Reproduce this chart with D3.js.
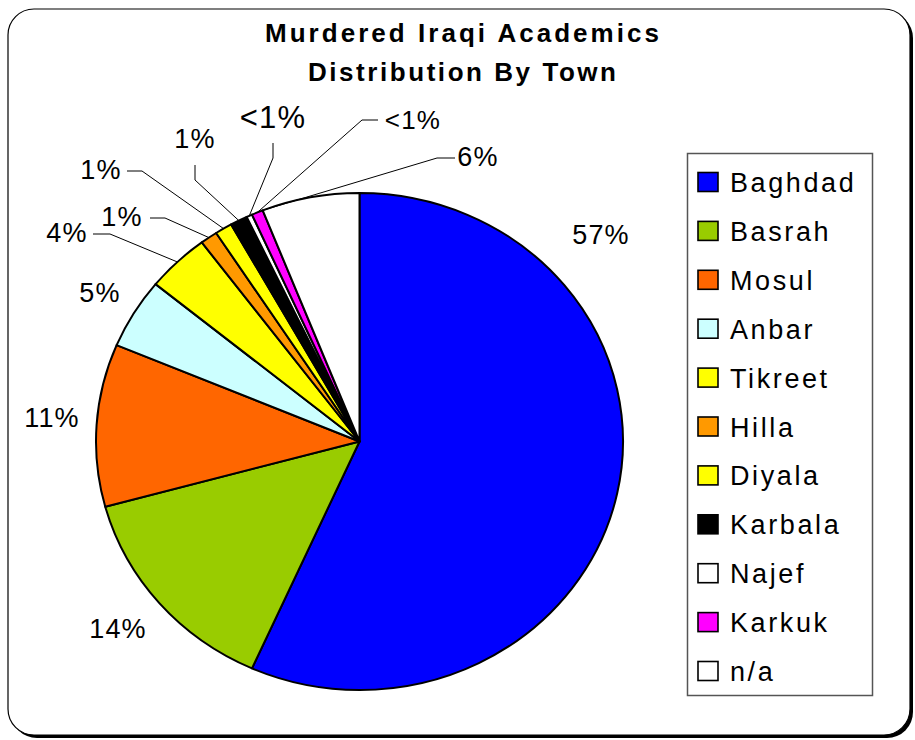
<!DOCTYPE html>
<html>
<head>
<meta charset="utf-8">
<script src="https://cdn.jsdelivr.net/npm/d3@7"></script>
<style>
  body { margin: 0; background: #fff; }
  svg { display: block; font-family: "Liberation Sans", Arial, sans-serif; }
</style>
</head>
<body>
<div id="chart"></div>
<script>
// data (counts, labels computed as share of total)
const towns = ["Baghdad", "Basrah", "Mosul", "Anbar", "Tikreet", "Hilla", "Diyala", "Karbala", "Najef", "Karkuk", "n/a"];
const counts = [161, 40, 30, 13, 11, 3, 3, 3, 1, 2, 17];
const colors = ["#0000ff", "#99cc00", "#ff6600", "#ccffff", "#ffff00", "#ff9900", "#ffff00", "#000000", "#ffffff", "#ff00ff", "#ffffff"];
const titleLines = ["Murdered Iraqi Academics", "Distribution By Town"];

// label placement (layout only): text centre, leader polyline start/bend, font size
const labelLayout = [
  { x: 601, y: 235, size: 27 },
  { x: 118, y: 629, size: 27 },
  { x: 52, y: 418, size: 27 },
  { x: 100, y: 293, size: 27 },
  { x: 67, y: 233, size: 27, lead: [[93, 234], [110, 234]] },
  { x: 122, y: 217, size: 27, lead: [[150, 218], [165, 218]] },
  { x: 101, y: 170, size: 27, lead: [[127, 171], [142, 171]] },
  { x: 195, y: 139, size: 27, lead: [[195, 165], [195, 180]] },
  { x: 273, y: 117, size: 31, lead: [[273, 143], [273, 158]] },
  { x: 413, y: 120, size: 26, lead: [[378, 120], [362, 120]] },
  { x: 478, y: 157, size: 27, lead: [[455, 158], [437, 158]], anchor: "start" }
];

const W = 915, H = 740;
const cx = 359.5, cy = 441.5, r = 248.5, sx = 263.5 / 248.5;

const svg = d3.select("#chart").append("svg")
  .attr("width", W)
  .attr("height", H);

// frame with shadow
svg.append("rect")
  .attr("x", 11).attr("y", 12).attr("width", 902).attr("height", 726)
  .attr("rx", 26).attr("fill", "#000");
svg.append("rect")
  .attr("x", 8).attr("y", 9).attr("width", 902).attr("height", 726)
  .attr("rx", 26).attr("fill", "#fff").attr("stroke", "#000").attr("stroke-width", 1.2);

// title
svg.selectAll(".title")
  .data(titleLines)
  .enter()
  .append("text")
  .attr("class", "title")
  .attr("x", 462)
  .attr("y", (d, i) => 42 + i * 39)
  .attr("text-anchor", "middle")
  .attr("font-size", 26)
  .attr("font-weight", "bold")
  .attr("textLength", (d, i) => i === 0 ? 394 : 308)
  .attr("lengthAdjust", "spacing")
  .text(d => d);

const total = d3.sum(counts);
const data = towns.map((t, i) => ({ town: t, value: counts[i], color: colors[i] }));

const pie = d3.pie().sort(null).value(d => d.value);
const arcs = pie(data);

const arc = d3.arc().innerRadius(0).outerRadius(r);

const g = svg.append("g")
  .attr("transform", `translate(${cx},${cy}) scale(${sx},1)`);

g.selectAll("path")
  .data(arcs)
  .enter()
  .append("path")
  .attr("d", arc)
  .attr("fill", d => d.data.color)
  .attr("stroke", "#000")
  .attr("stroke-width", 2)
  .attr("stroke-linejoin", "round")
  .attr("vector-effect", "non-scaling-stroke");

function edgePoint(a) {
  return [cx + Math.sin(a) * r * sx, cy - Math.cos(a) * r];
}

function pctLabel(v) {
  const p = v / total * 100;
  return p < 1 ? "<1%" : Math.round(p) + "%";
}

// leader lines
arcs.forEach((d, i) => {
  const lay = labelLayout[i];
  if (!lay.lead) return;
  const a = lay.anchor === "start" ? d.startAngle + 0.004 : (d.startAngle + d.endAngle) / 2;
  const pts = lay.lead.concat([edgePoint(a)]);
  svg.append("path")
    .attr("d", d3.line()(pts))
    .attr("fill", "none")
    .attr("stroke", "#000")
    .attr("stroke-width", 1);
});

// percent labels
svg.selectAll(".pct")
  .data(arcs)
  .enter()
  .append("text")
  .attr("class", "pct")
  .attr("x", (d, i) => labelLayout[i].x)
  .attr("y", (d, i) => labelLayout[i].y)
  .attr("text-anchor", "middle")
  .attr("dominant-baseline", "central")
  .attr("font-size", (d, i) => labelLayout[i].size)
  .attr("letter-spacing", 1.2)
  .text(d => pctLabel(d.value));

// legend
const legend = svg.append("g");
legend.append("rect")
  .attr("x", 687.5).attr("y", 153.5).attr("width", 185).attr("height", 542)
  .attr("fill", "#fff").attr("stroke", "#555").attr("stroke-width", 1.5);

const item = legend.selectAll(".item")
  .data(data)
  .enter()
  .append("g")
  .attr("class", "item")
  .attr("transform", (d, i) => `translate(698, ${182 + i * 48.9})`);

item.append("rect")
  .attr("x", 0).attr("y", -9.5).attr("width", 20).attr("height", 19)
  .attr("fill", d => d.color)
  .attr("stroke", "#000").attr("stroke-width", 1.6);

item.append("text")
  .attr("x", 32)
  .attr("y", 10)
  .attr("font-size", 27)
  .attr("letter-spacing", 2.6)
  .text(d => d.town);
</script>
</body>
</html>
